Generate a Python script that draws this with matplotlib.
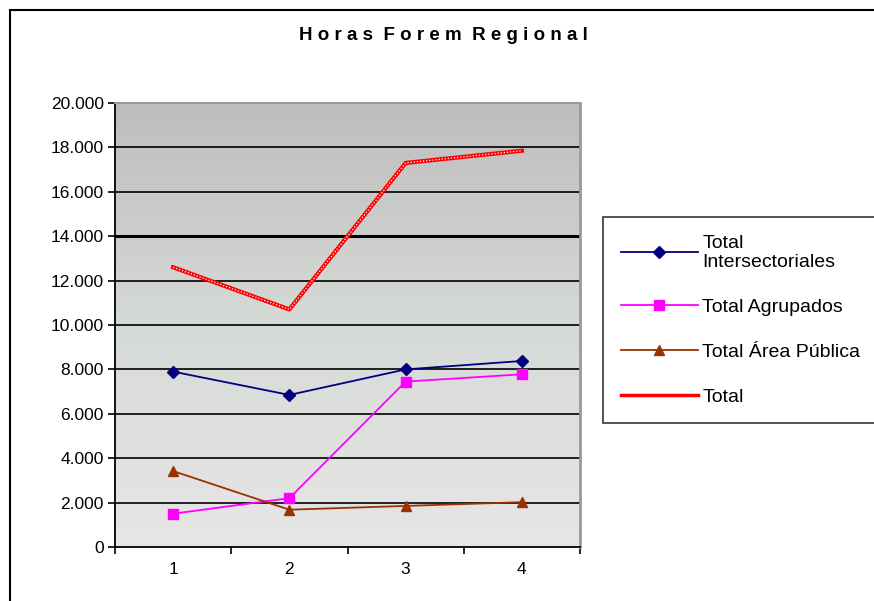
import numpy as np
import matplotlib.pyplot as plt
from matplotlib.patches import Rectangle
from matplotlib.lines import Line2D
from matplotlib.ticker import FuncFormatter
from matplotlib.colors import LinearSegmentedColormap

plt.rcParams['font.family'] = ['Liberation Sans', 'DejaVu Sans']

# datos
trimestres = [1, 2, 3, 4]
intersectoriales = [7900, 6850, 8000, 8380]
agrupados = [1500, 2200, 7450, 7780]
area_publica = [3420, 1680, 1850, 2020]
total = [12600, 10700, 17300, 17850]

fig = plt.figure(figsize=(8.74, 6.01), dpi=100)
W, H = 874, 601

# marco exterior del gráfico
fig.patches.append(Rectangle((10 / W, -0.1), 1.2, 1 - 10 / H + 0.1, transform=fig.transFigure,
                             fill=False, edgecolor='black', linewidth=1.5))

ax = fig.add_axes([115 / W, 1 - 547 / H, (580 - 115) / W, (547 - 103) / H])

# fondo degradado gris
grad = np.linspace(0, 1, 256).reshape(-1, 1)
cmap = LinearSegmentedColormap.from_list('fondo', ['#e6e6e6', '#d6dad6', '#bdbdbd'])
ax.imshow(grad, extent=[0.5, 4.5, 0, 20000], origin='lower', aspect='auto', cmap=cmap, zorder=0)

for y in range(2000, 20001, 2000):
    ax.axhline(y, color='black', linewidth=2.2 if y == 14000 else 1.2, zorder=1)

ax.plot(trimestres, intersectoriales, color='#000080', marker='D', markersize=6, linewidth=1.3, zorder=3)
ax.plot(trimestres, agrupados, color='#ff00ff', marker='s', markersize=7, linewidth=1.3, zorder=3)
ax.plot(trimestres, area_publica, color='#993300', marker='^', markersize=7, linewidth=1.3, zorder=3)
ax.plot(trimestres, total, color='red', linewidth=3, zorder=4)
ax.plot(trimestres, total, color='white', linewidth=0.9, linestyle=(0, (1, 1.5)), zorder=5)

ax.set_xlim(0.5, 4.5)
ax.set_ylim(0, 20000)
ax.set_yticks(range(0, 20001, 2000))
ax.yaxis.set_major_formatter(FuncFormatter(lambda v, p: f'{int(v):,}'.replace(',', '.')))
ax.set_xticks(trimestres)
ax.set_xticks([0.5, 1.5, 2.5, 3.5, 4.5], minor=True)
ax.tick_params(axis='x', which='major', length=0, pad=11, labelsize=12.5)
ax.tick_params(axis='x', which='minor', length=5, direction='out', width=1.2)
ax.tick_params(axis='y', length=5, width=1.2, labelsize=12.5, pad=3)
ax.spines['left'].set_linewidth(1.3)
ax.spines['bottom'].set_linewidth(1.3)
ax.spines['top'].set_color('#999999')
ax.spines['right'].set_color('#999999')
ax.spines['right'].set_linewidth(2)
ax.spines['top'].set_linewidth(1.5)

fig.text(443 / W, 1 - 36 / H, 'H o r a s  F o r e m  R e g i o n a l', ha='center', va='center',
         fontsize=13.5, fontweight='bold')

handles = [
    Line2D([], [], color='#000080', marker='D', markersize=6, linewidth=1.3),
    Line2D([], [], color='#ff00ff', marker='s', markersize=7, linewidth=1.3),
    Line2D([], [], color='#993300', marker='^', markersize=7, linewidth=1.3),
    Line2D([], [], color='red', linewidth=2.5),
]
labels = ['Total\nIntersectoriales', 'Total Agrupados', 'Total Área Pública', 'Total']
leg = fig.legend(handles, labels, loc='upper left', bbox_to_anchor=(603 / W, 1 - 217 / H),
                 frameon=True, fancybox=False, edgecolor='black', fontsize=14,
                 handlelength=4.0, handletextpad=0.2, labelspacing=1.4, borderpad=0.9,
                 borderaxespad=0)
leg.get_frame().set_linewidth(1.2)

fig.savefig('out.png', dpi=100)
